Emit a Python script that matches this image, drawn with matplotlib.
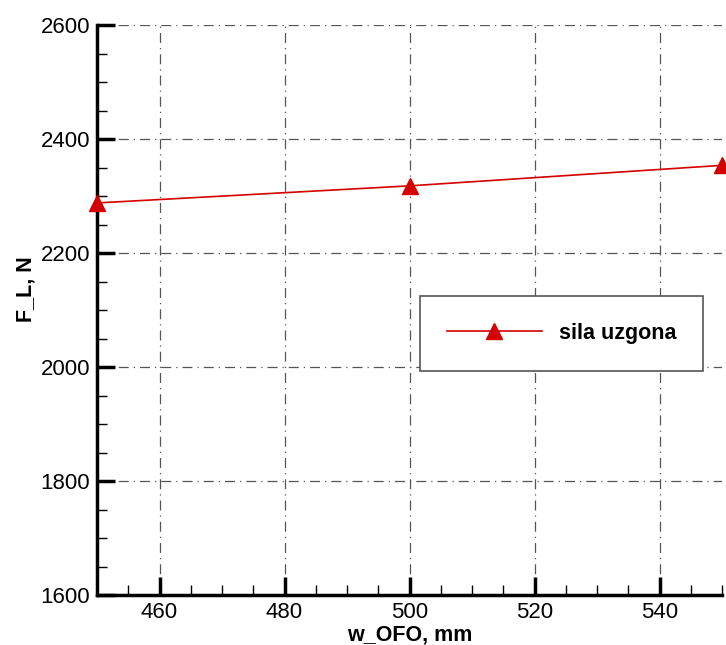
import numpy as np
import matplotlib.pyplot as plt
from matplotlib.ticker import MultipleLocator

# dane
w_ofo = [450, 500, 550]
sila_uzgona = [2288, 2318, 2354]

plt.rcParams['font.family'] = ['Liberation Sans', 'DejaVu Sans']

fig = plt.figure(figsize=(7.26, 6.45), dpi=100)
ax = fig.add_axes([0.1336, 0.0775, 0.861, 0.8835])

ax.plot(w_ofo, sila_uzgona, color='#d40000', linewidth=1.2, marker='^',
        markersize=11, label='sila uzgona', clip_on=False, zorder=5)

ax.set_xlim(450, 550)
ax.set_ylim(1600, 2600)
ax.xaxis.set_major_locator(MultipleLocator(20))
ax.xaxis.set_minor_locator(MultipleLocator(5))
ax.yaxis.set_major_locator(MultipleLocator(200))
ax.yaxis.set_minor_locator(MultipleLocator(50))

ax.spines['top'].set_visible(False)
ax.spines['right'].set_visible(False)
ax.spines['left'].set_linewidth(2.5)
ax.spines['bottom'].set_linewidth(2.5)

ax.tick_params(which='major', direction='in', length=13, width=2.5, labelsize=16, pad=5)
ax.tick_params(which='minor', direction='in', length=7, width=1)

ax.grid(True, which='major', color='#555555', linestyle='-.', linewidth=0.9, dashes=(8, 4, 1, 4))

ax.set_xlabel('w_OFO, mm', fontsize=15.5, fontweight='bold', labelpad=1)
ax.set_ylabel('F_L, N', fontsize=15.5, fontweight='bold')
ax.yaxis.set_label_coords(-0.096, 0.537)

leg = ax.legend(loc='upper left', bbox_to_anchor=(0.517, 0.5246),
                prop={'weight': 'bold', 'size': 15.5}, fancybox=False, framealpha=1,
                edgecolor='#555555', handlelength=4.4, borderpad=1.25, handletextpad=0.8,
                borderaxespad=0)
leg.get_frame().set_linewidth(1.2)

fig.savefig('out.png', dpi=100)
